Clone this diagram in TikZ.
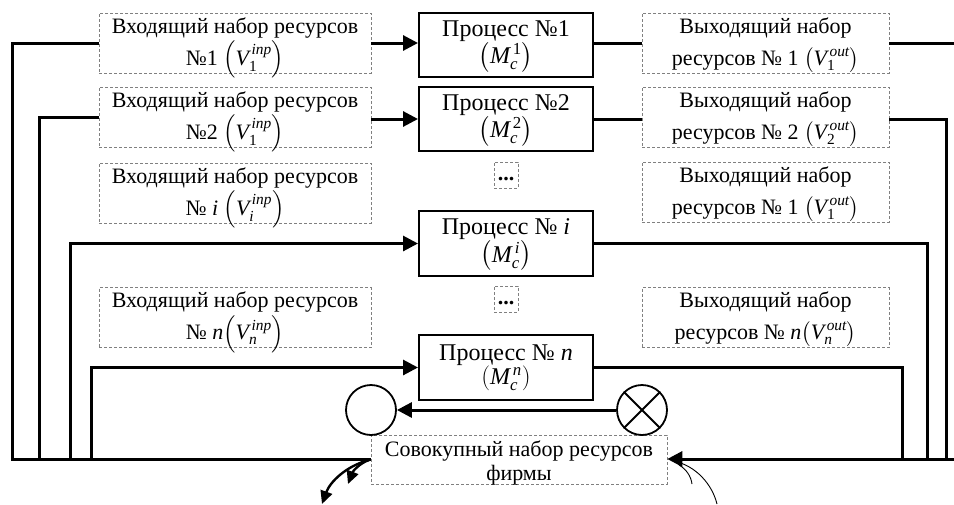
\documentclass[tikz,border=0pt]{standalone}
\usepackage{amsmath}
\usepackage{fontspec}
\setmainfont{Liberation Serif}
\usetikzlibrary{arrows.meta}
\newcommand\Vio[2]{\ensuremath{\left(\textit{V}_{#1}^{\,\textit{#2}}\right)}}
\newcommand\Mproc[1]{\ensuremath{\left(\textit{M}_{\textit{c}}^{\,#1}\right)}}
\newcommand\tl[3]{\smash[t]{#2}\rule{0pt}{#1}\\\smash[b]{#3}}
\begin{document}
\begin{tikzpicture}[x=1pt,y=-1pt,
  every node/.style={font=\fontsize{22}{32}\selectfont, align=center, inner sep=0pt},
  dbox/.style={draw=gray, densely dashed, line width=0.6pt},
  inbox/.style={dbox, minimum width=272pt, minimum height=60pt},
  outbox/.style={dbox, minimum width=247pt, minimum height=60pt},
  dotbox/.style={dbox, minimum width=24pt, minimum height=26pt, font=\fontsize{22}{26}\selectfont},
  procbox/.style={draw, line width=2pt, minimum width=174pt, minimum height=64pt, font=\fontsize{24}{24}\selectfont},
  aggbox/.style={dbox, minimum width=296pt, minimum height=49pt, font=\fontsize{22}{24}\selectfont},
  ring/.style={draw, circle, line width=1.8pt, minimum size=50pt},
  conn/.style={line width=3pt},
  arr/.style={conn, -{Triangle[length=15pt,width=15pt]}},
  carr/.style={line width=2.4pt, -{Triangle[length=13pt,width=12pt]}},
  thin/.style={line width=0.9pt}
]
\useasboundingbox (0,0) rectangle (954,504);

% input boxes
\node[inbox] (in1) at (235,43) {\tl{12pt}{Входящий набор ресурсов}{№1 \Vio{\text{1}}{inp}}};
\node[inbox] (in2) at (235,117) {\tl{12pt}{Входящий набор ресурсов}{№2 \Vio{\text{1}}{inp}}};
\node[inbox] (ini) at (235,193) {\tl{12pt}{Входящий набор ресурсов}{№ \textit{i} \Vio{\textit{i}}{inp}}};
\node[inbox] (inn) at (235,317.5) {\tl{12pt}{Входящий набор ресурсов}{№ \textit{n}\Vio{\textit{n}}{inp}}};

% processes
\node[procbox] (p1) at (506,45) {\tl{10pt}{Процесс №1}{\Mproc{\text{1}}}};
\node[procbox] (p2) at (506,119) {\tl{10pt}{Процесс №2}{\Mproc{\text{2}}}};
\node[dotbox] (d1) at (506,175) {\strut\textbf{...}};
\node[procbox, minimum height=65pt] (pi) at (506,243.5) {\tl{10pt}{Процесс № \textit{i}}{\Mproc{\textit{i}}}};
\node[dotbox] (d2) at (506,299) {\strut\textbf{...}};
\node[procbox, minimum height=65pt] (pn) at (506,367.5) {\tl{10pt}{Процесс № \textit{n}}{\Mproc{\textit{n}}}};

% output boxes
\node[outbox] (out1) at (765.5,43) {\tl{12pt}{Выходящий набор}{ресурсов № 1 \Vio{\text{1}}{out}}};
\node[outbox] (out2) at (765.5,117) {\tl{12pt}{Выходящий набор}{ресурсов № 2 \Vio{\text{2}}{out}}};
\node[outbox] (out3) at (765.5,192) {\tl{12pt}{Выходящий набор}{ресурсов № 1 \Vio{\text{1}}{out}}};
\node[outbox] (outn) at (765.5,317.5) {\tl{12pt}{Выходящий набор}{ресурсов № \textit{n}\Vio{\textit{n}}{out}}};

% aggregate
\node[aggbox] (agg) at (519,459.5) {\tl{17pt}{Совокупный набор ресурсов}{фирмы}};

% circles
\node[ring] (c0) at (371,410) {};
\node[ring] (cx) at (642,410) {};
\draw[line width=1.8pt] (cx.north west) -- (cx.south east) (cx.north east) -- (cx.south west);

% coordinates on the bottom line
\coordinate (L1) at (12,459);
\coordinate (L2) at (39,459);
\coordinate (L3) at (70,459);
\coordinate (L4) at (91,459);
\coordinate (R1) at (954,459);
\coordinate (R2) at (946,459);
\coordinate (R3) at (927,459);
\coordinate (R4) at (902,459);
\coordinate (T1) at (954,43);

% left loops
\draw[conn] (in1.west) -| (L1) -- (agg.west |- L1);
\draw[conn] (in2.west) -| (L2);
\draw[arr] (L3) |- (pi.west);
\draw[arr] (L4) |- (pn.west);

% inputs to processes
\draw[arr] (in1.east) -- (in1.east -| p1.west);
\draw[arr] (in2.east |- p2.west) -- (p2.west);

% processes to outputs
\draw[conn] (p1.east |- out1.west) -- (out1.west);
\draw[conn] (p2.east) -- (p2.east -| out2.west);
\draw[conn] (out1.east) -- (T1);
\draw[conn] (out2.east |- p2.east) -| (R2);
\draw[conn] (pi.east) -| (R3);
\draw[conn] (pn.east) -| (R4);
\draw[arr] (R1) -- (agg.east |- R1);

% circles
\draw[arr] (cx.west) -- (c0.east);

% curved arrows at the bottom left
\coordinate (CL) at (369,460);
\coordinate (CA) at (348,484);
\coordinate (CB) at (322,504);
\draw[carr] (CL) .. controls (360,463) and (353,471) .. (CA);
\draw[carr] (CL) .. controls (346,466) and (330,482) .. (CB);

% thin curves at the bottom right
\coordinate (CR) at (674,461);
\coordinate (CC) at (717,504);
\coordinate (CD1) at (692,484);
\coordinate (CD2) at (679,465);
\draw[thin] (CC) .. controls (712,484) and (696,466) .. (CR);
\draw[thin] (CD1) .. controls (691,476) and (686,469) .. (CD2);
\end{tikzpicture}
\end{document}
